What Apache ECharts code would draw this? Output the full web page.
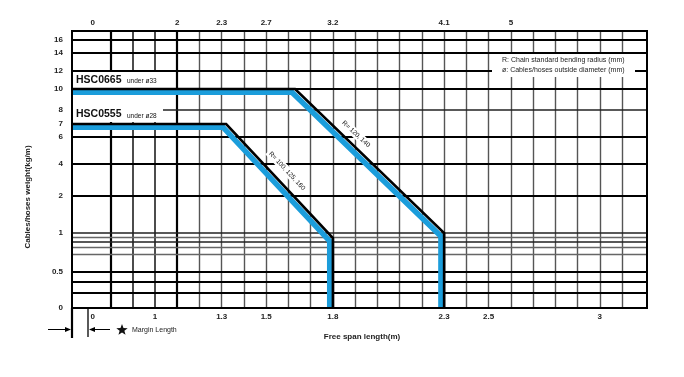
<!DOCTYPE html>
<html><head><meta charset="utf-8">
<script src="https://cdn.jsdelivr.net/npm/echarts@6/dist/echarts.min.js"></script>
<style>html,body{margin:0;padding:0;background:#fff}#c{width:684px;height:377px}</style>
</head><body><div id="c"></div>
<script>
// ---- Free span axis (m), extent as drawn ----
const X_MIN = 0.627, X_MAX = 3.212;
// vertical grid lines (free span, m)
const xGridBold = [0.8, 1.1];
const xGridDark = [0.9, 1.0];
const xGridGray = [1.2, 1.3, 1.4, 1.5, 1.6, 1.7, 1.8, 1.9, 2.0, 2.1, 2.2, 2.3, 2.4, 2.5, 2.6, 2.7, 2.8, 2.9, 3.0, 3.1];
// bottom tick labels (free span length) and top tick labels (travel length)
const bottomTickValues = [0.72, 1, 1.3, 1.5, 1.8, 2.3, 2.5, 3];
const bottomTickLabels = ['0', '1', '1.3', '1.5', '1.8', '2.3', '2.5', '3'];
const topTickValues = [0.72, 1.1, 1.3, 1.5, 1.8, 2.3, 2.6];
const topTickLabels = ['0', '2', '2.3', '2.7', '3.2', '4.1', '5'];
// weight axis ticks / grid (kg/m)
const yTickValues = [0, 0.5, 1, 2, 4, 6, 7, 8, 10, 12, 14, 16];
const yGridBold = [16, 14, 12, 10, 6, 4, 2, 0.5, 0.4, 0.2];
const yGridDark = [8, 1, 0.8];
const yGridGray = [0.9, 0.7, 0.6];
// ---- series: free span (m) vs cable/hose weight (kg/m) ----
const hsc0665Span = [X_MIN, 1.63, 2.3, 2.3];
const hsc0665Weight = [10, 10, 1, 0];
const hsc0555Span = [X_MIN, 1.32, 1.8, 1.8];
const hsc0555Weight = [7, 7, 0.88, 0];

// nomogram weight scale (value -> position along the axis, 0..W_AXIS_MAX)
const W_SCALE_VAL = [0, 0.2, 0.4, 0.5, 0.6, 0.7, 0.8, 0.9, 1, 2, 4, 6, 7, 8, 10, 12, 14, 16];
const W_SCALE_POS = [0, 15, 26, 36, 54, 61, 66, 71, 75, 112, 144, 171, 184, 198, 219, 237, 255, 268];
const W_AXIS_MAX = 277;
function wPos(v) {
  for (let i = 1; i < W_SCALE_VAL.length; i++) {
    if (v <= W_SCALE_VAL[i]) {
      const a = W_SCALE_VAL[i - 1], b = W_SCALE_VAL[i];
      return W_SCALE_POS[i - 1] + (v - a) / (b - a) * (W_SCALE_POS[i] - W_SCALE_POS[i - 1]);
    }
  }
  return W_SCALE_POS[W_SCALE_POS.length - 1];
}
function wLabel(p) {
  let best = 0, d = Infinity;
  yTickValues.forEach((v, i) => { const dd = Math.abs(wPos(v) - p); if (dd < d) { d = dd; best = i; } });
  return String(yTickValues[best]);
}
function nearestLabel(vals, labels, v) {
  let best = 0, d = Infinity;
  vals.forEach((x, i) => { const dd = Math.abs(x - v); if (dd < d) { d = dd; best = i; } });
  return labels[best];
}

const BLUE = '#1b9ddb';
const FONT = 'Liberation Sans, Arial, sans-serif';

const gridLines = [];
xGridBold.forEach(v => gridLines.push({ xAxis: v, lineStyle: { color: '#000', width: 2.2, type: 'solid' } }));
xGridDark.forEach(v => gridLines.push({ xAxis: v, lineStyle: { color: '#111', width: 1.5, type: 'solid' } }));
xGridGray.forEach(v => gridLines.push({ xAxis: v, lineStyle: { color: '#555', width: 1.4, type: 'solid' } }));
yGridBold.forEach(v => gridLines.push({ yAxis: wPos(v), lineStyle: { color: '#000', width: 2, type: 'solid' } }));
yGridDark.forEach(v => gridLines.push({ yAxis: wPos(v), lineStyle: { color: '#222', width: 1.5, type: 'solid' } }));
yGridGray.forEach(v => gridLines.push({ yAxis: wPos(v), lineStyle: { color: '#666', width: 1.3, type: 'solid' } }));

function curveSeries(name, span, weight) {
  return {
    name, type: 'custom', z: 6, clip: true, silent: true,
    data: [[span[0], wPos(weight[0])]],
    renderItem(params, api) {
      const pts = span.map((x, i) => api.coord([x, wPos(weight[i])]));
      const off = pts.map(p => [p[0] - 3.2, p[1] + 3.2]);
      return {
        type: 'group', children: [
          { type: 'polyline', shape: { points: off }, style: { stroke: BLUE, lineWidth: 5.5, fill: null, lineJoin: 'miter' } },
          { type: 'polyline', shape: { points: pts }, style: { stroke: '#000', lineWidth: 2.6, fill: null, lineJoin: 'miter' } }
        ]
      };
    }
  };
}

function starPoints(cx, cy, R, r) {
  const pts = [];
  for (let i = 0; i < 10; i++) {
    const ang = -Math.PI / 2 + i * Math.PI / 5;
    const rad = i % 2 === 0 ? R : r;
    pts.push([cx + rad * Math.cos(ang), cy + rad * Math.sin(ang)]);
  }
  return pts;
}

const chart = echarts.init(document.getElementById('c'), null, { renderer: 'canvas' });
const labelStyle = { fontFamily: FONT, fontSize: 8, fontWeight: 'bold', color: '#222' };
chart.setOption({
  animation: false,
  backgroundColor: '#fff',
  grid: { left: 72, top: 31, width: 575, height: 277, show: false },
  xAxis: [
    {
      type: 'value', position: 'bottom', min: X_MIN, max: X_MAX,
      axisLine: { show: false }, axisTick: { show: false }, splitLine: { show: false },
      axisLabel: Object.assign({ customValues: bottomTickValues, margin: 5,
        formatter: v => nearestLabel(bottomTickValues, bottomTickLabels, v) }, labelStyle)
    },
    {
      type: 'value', position: 'top', min: X_MIN, max: X_MAX,
      axisLine: { show: false }, axisTick: { show: false }, splitLine: { show: false },
      axisLabel: Object.assign({ customValues: topTickValues, margin: 4,
        formatter: v => nearestLabel(topTickValues, topTickLabels, v) }, labelStyle)
    }
  ],
  yAxis: {
    type: 'value', min: 0, max: W_AXIS_MAX,
    axisLine: { show: false }, axisTick: { show: false }, splitLine: { show: false },
    axisLabel: Object.assign({ customValues: yTickValues.map(wPos), margin: 9, formatter: v => wLabel(v) }, labelStyle)
  },
  series: [
    {
      type: 'line', z: 1, silent: true, data: [], symbol: 'none',
      markLine: { z: 1, silent: true, symbol: 'none', label: { show: false }, animation: false, data: gridLines }
    },
    curveSeries('HSC0665', hsc0665Span, hsc0665Weight),
    curveSeries('HSC0555', hsc0555Span, hsc0555Weight)
  ],
  graphic: {
    elements: [
      // white label boxes
      { type: 'rect', z: 3, shape: { x: 73, y: 72, width: 87, height: 16.5 }, style: { fill: '#fff' } },
      { type: 'rect', z: 3, shape: { x: 73, y: 95, width: 90, height: 27 }, style: { fill: '#fff' } },
      { type: 'rect', z: 3, shape: { x: 492, y: 54, width: 143, height: 23 }, style: { fill: '#fff' } },
      { type: 'text', z: 4, x: 76, y: 80, style: { text: 'HSC0665', font: 'bold 10.5px ' + FONT, fill: '#111', align: 'left', verticalAlign: 'middle' } },
      { type: 'text', z: 4, x: 127, y: 81.5, style: { text: 'under ø33', font: '6.5px ' + FONT, fill: '#111', align: 'left', verticalAlign: 'middle' } },
      { type: 'text', z: 4, x: 76, y: 114.5, style: { text: 'HSC0555', font: 'bold 10.5px ' + FONT, fill: '#111', align: 'left', verticalAlign: 'middle' } },
      { type: 'text', z: 4, x: 127, y: 116, style: { text: 'under ø28', font: '6.5px ' + FONT, fill: '#111', align: 'left', verticalAlign: 'middle' } },
      { type: 'text', z: 4, x: 502, y: 60, style: { text: 'R: Chain standard bending radius (mm)', font: '7px ' + FONT, fill: '#222', align: 'left', verticalAlign: 'middle' } },
      { type: 'text', z: 4, x: 502, y: 70, style: { text: 'ø: Cables/hoses outside diameter (mm)', font: '7px ' + FONT, fill: '#222', align: 'left', verticalAlign: 'middle' } },
      { type: 'text', z: 4, x: 356, y: 134, rotation: -43 * Math.PI / 180, style: { text: 'R= 120, 140', font: '6.5px ' + FONT, fill: '#111', align: 'center', verticalAlign: 'middle', backgroundColor: '#fff', padding: [1, 2] } },
      { type: 'text', z: 4, x: 287, y: 171, rotation: -47 * Math.PI / 180, style: { text: 'R= 100, 125, 160', font: '6.5px ' + FONT, fill: '#111', align: 'center', verticalAlign: 'middle', backgroundColor: '#fff', padding: [1, 2] } },
      // axis titles
      { type: 'text', z: 4, x: 28, y: 197, rotation: Math.PI / 2, style: { text: 'Cables/hoses weight(kg/m)', font: 'bold 8px ' + FONT, fill: '#222', align: 'center', verticalAlign: 'middle' } },
      { type: 'text', z: 4, x: 362, y: 337, style: { text: 'Free span length(m)', font: 'bold 8px ' + FONT, fill: '#222', align: 'center', verticalAlign: 'middle' } },
      // plot frame
      { type: 'rect', z: 10, shape: { x: 72, y: 31, width: 575, height: 277 }, style: { fill: null, stroke: '#000', lineWidth: 2 } },
      // margin length marker
      { type: 'line', z: 10, shape: { x1: 72, y1: 308, x2: 72, y2: 338 }, style: { stroke: '#000', lineWidth: 2.2 } },
      { type: 'line', z: 10, shape: { x1: 88, y1: 308, x2: 88, y2: 337 }, style: { stroke: '#000', lineWidth: 1.3 } },
      { type: 'line', z: 10, shape: { x1: 48, y1: 329.5, x2: 66, y2: 329.5 }, style: { stroke: '#000', lineWidth: 1 } },
      { type: 'polygon', z: 10, shape: { points: [[71, 329.5], [65, 327], [65, 332]] }, style: { fill: '#000' } },
      { type: 'line', z: 10, shape: { x1: 93, y1: 329.5, x2: 110, y2: 329.5 }, style: { stroke: '#000', lineWidth: 1 } },
      { type: 'polygon', z: 10, shape: { points: [[89, 329.5], [95, 327], [95, 332]] }, style: { fill: '#000' } },
      { type: 'polygon', z: 10, shape: { points: starPoints(122, 330, 6, 2.5) }, style: { fill: '#111' } },
      { type: 'text', z: 10, x: 132, y: 330, style: { text: 'Margin Length', font: '7px ' + FONT, fill: '#222', align: 'left', verticalAlign: 'middle' } }
    ]
  }
});
</script></body></html>
